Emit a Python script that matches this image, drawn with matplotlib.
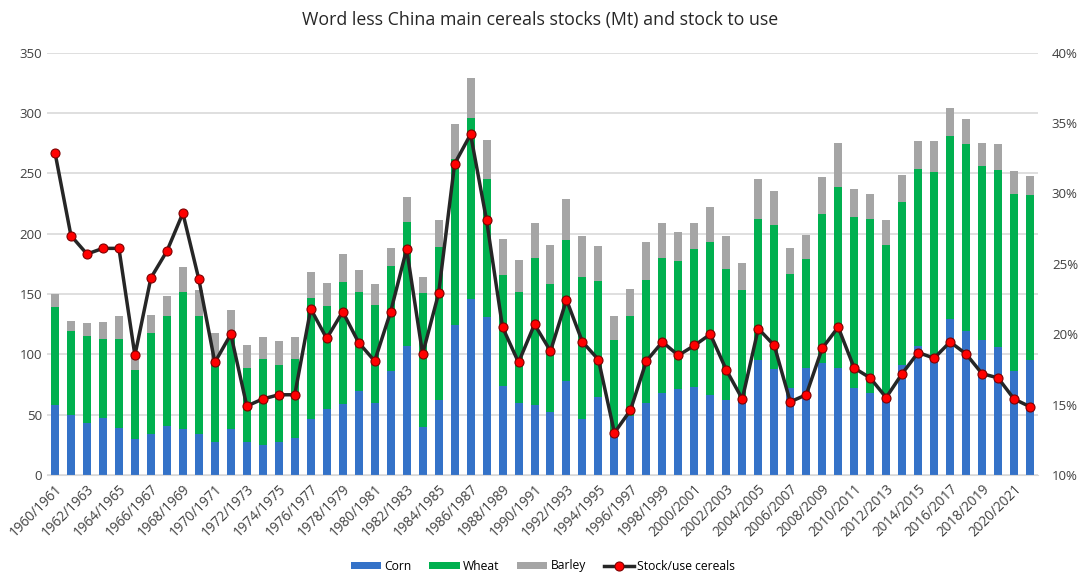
import matplotlib
matplotlib.use("Agg")
import matplotlib.pyplot as plt
import numpy as np
from matplotlib.ticker import FuncFormatter

seasons = [f"{y}/{y+1}" for y in range(1960, 2022)]

corn = [58, 50, 43, 47, 39, 30, 34, 41, 38, 34, 27, 38, 27, 25, 27, 31, 46, 55, 59, 70,
        60, 86, 107, 40, 62, 124, 146, 131, 74, 60, 58, 52, 78, 46, 65, 32, 49, 60, 68, 71,
        73, 66, 62, 63, 95, 88, 72, 89, 93, 89, 72, 68, 65, 91, 107, 98, 129, 119, 112, 106,
        86, 95]
wheat = [139, 119, 115, 113, 113, 87, 118, 132, 152, 132, 95, 116, 89, 96, 91, 96, 147, 140, 160, 152,
         141, 173, 210, 151, 189, 262, 296, 245, 166, 152, 180, 158, 195, 164, 161, 112, 132, 162, 180, 177,
         187, 193, 171, 153, 212, 207, 167, 179, 216, 239, 214, 212, 191, 226, 254, 251, 281, 274, 256, 253,
         233, 232]
barley_top = [150, 128, 126, 127, 132, 97, 133, 148, 172, 153, 118, 137, 108, 114, 111, 114, 168, 159, 183, 170,
              158, 188, 230, 164, 211, 291, 329, 278, 196, 178, 209, 191, 229, 198, 190, 132, 154, 193, 209, 201,
              209, 222, 198, 176, 245, 235, 188, 199, 247, 275, 237, 233, 211, 249, 277, 277, 304, 295, 275, 274,
              252, 248]
stock_use = [32.9, 27.0, 25.7, 26.1, 26.1, 18.5, 24.0, 25.9, 28.6, 23.9, 18.0, 20.0, 14.9, 15.4, 15.7, 15.7,
             21.8, 19.7, 21.6, 19.4, 18.1, 21.6, 26.05, 18.6, 22.9, 32.1, 34.2, 28.1, 20.5, 18.0, 20.7, 18.8,
             22.45, 19.45, 18.2, 13.0, 14.6, 18.1, 19.45, 18.5, 19.2, 20.0, 17.46, 15.4, 20.4, 19.2, 15.2, 15.7,
             19.0, 20.5, 17.6, 16.9, 15.5, 17.2, 18.7, 18.3, 19.45, 18.6, 17.2, 16.9, 15.4, 14.85]

wheat_only = [w - c for w, c in zip(wheat, corn)]
barley = [b - w for b, w in zip(barley_top, wheat)]

plt.rcParams['font.family'] = ['Open Sans', 'DejaVu Sans']

fig = plt.figure(figsize=(10.8, 5.74), dpi=100)
ax = fig.add_axes([47/1080, 1 - 475/574, (1038-47)/1080, (475-52.7)/574])
x = np.arange(len(seasons))
w = 0.5
b1 = ax.bar(x, corn, width=w, color='#3472C8', label='Corn', zorder=2)
b2 = ax.bar(x, wheat_only, width=w, bottom=corn, color='#00B04F', label='Wheat', zorder=2)
b3 = ax.bar(x, barley, width=w, bottom=wheat, color='#A5A5A5', label='Barley', zorder=2)

ax.set_ylim(0, 350)
ax.set_yticks(range(0, 351, 50))
ax.set_xlim(-0.5, len(seasons) - 0.5)
ax.grid(axis='y', color='#D9D9D9', linewidth=1.2, zorder=0)
ax.set_axisbelow(True)
for s in ['top', 'left', 'right']:
    ax.spines[s].set_visible(False)
ax.spines['bottom'].set_color('#D9D9D9')
ax.tick_params(axis='both', length=0, labelsize=9.5, colors='#404040')
ax.set_xticks(x[::2])
ax.set_xticklabels(seasons[::2], rotation=45, ha='right', rotation_mode='anchor', fontsize=9.8)
ax.tick_params(axis='x', pad=5)

ax2 = ax.twinx()
ln, = ax2.plot(x, stock_use, color='#262626', linewidth=2.5, marker='o', markersize=6.5,
               markerfacecolor='#FF0000', markeredgecolor='#7F0000', markeredgewidth=0.8,
               label='Stock/use cereals', zorder=3)
ax2.set_ylim(10, 40)
ax2.set_yticks(range(10, 41, 5))
ax2.yaxis.set_major_formatter(FuncFormatter(lambda v, p: f"{int(v)}%"))
for s in ['top', 'left', 'right', 'bottom']:
    ax2.spines[s].set_visible(False)
ax2.tick_params(axis='y', length=0, labelsize=9.5, colors='#404040', pad=10)

fig.text(0.5, 1 - 20/574, "Word less China main cereals stocks (Mt) and stock to use",
         ha='center', va='center', fontsize=12.8, color='#262626')

fig.legend([b1, b2, b3, ln], ['Corn', 'Wheat', 'Barley', 'Stock/use cereals'],
           loc='center', bbox_to_anchor=(543/1080, 1 - 566/574), ncol=4, frameon=False,
           fontsize=8.7, handlelength=2.5, handleheight=0.5, columnspacing=1.5, handletextpad=0.25)

fig.savefig("out.png", dpi=100)
